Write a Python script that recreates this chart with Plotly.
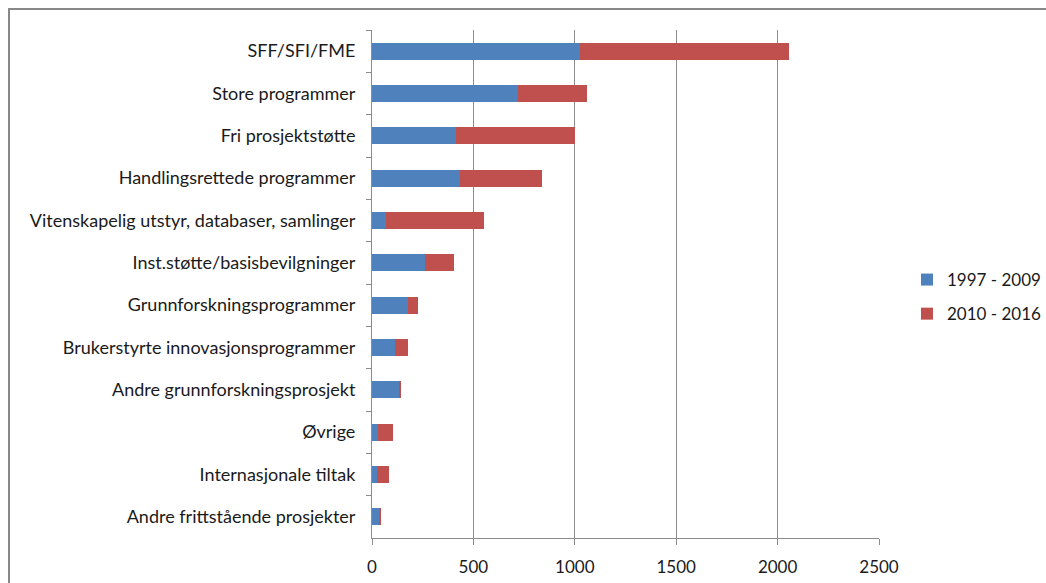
import plotly.graph_objects as go

categories = [
    "SFF/SFI/FME",
    "Store programmer",
    "Fri prosjektstøtte",
    "Handlingsrettede programmer",
    "Vitenskapelig utstyr, databaser, samlinger",
    "Inst.støtte/basisbevilgninger",
    "Grunnforskningsprogrammer",
    "Brukerstyrte innovasjonsprogrammer",
    "Andre grunnforskningsprosjekt",
    "Øvrige",
    "Internasjonale tiltak",
    "Andre frittstående prosjekter",
]
series_1997_2009 = [1028, 722, 415, 435, 67, 259, 179, 115, 134, 31, 25, 36]
series_2010_2016 = [1030, 336, 587, 405, 486, 146, 50, 64, 5, 74, 57, 5]
x_ticks = [0, 500, 1000, 1500, 2000, 2500]

FONT = "Lato"
W, H = 1046, 583
L, R, T, B = 372, 879, 30, 538

fig = go.Figure()
fig.add_trace(go.Bar(y=categories, x=series_1997_2009, orientation="h",
                     name="1997 - 2009", marker_color="#4F81BD",
                     marker_line_width=0, legendgroup="a"))
fig.add_trace(go.Bar(y=categories, x=series_2010_2016, orientation="h",
                     name="2010 - 2016", marker_color="#C0504D",
                     marker_line_width=0, legendgroup="b"))

pw = R - L
ph = B - T
fig.add_shape(type="rect", xref="paper", yref="paper",
              x0=(9 - L) / pw, x1=(W + 10 - L) / pw,
              y0=(B - (H + 10)) / ph, y1=(B - 9) / ph,
              line=dict(color="#888888", width=2), layer="below")

fig.update_layout(
    width=W, height=H,
    margin=dict(l=L, r=W - R, t=T, b=H - B, pad=0, autoexpand=False),
    barmode="stack", bargap=0.6,
    paper_bgcolor="white", plot_bgcolor="white",
    font=dict(family=FONT, size=16, color="#1a1a1a"),
    showlegend=True,
    legend=dict(x=(907 - L) / pw, y=(B - 297) / ph,
                xanchor="left", yanchor="middle",
                traceorder="grouped", tracegroupgap=9,
                font=dict(family=FONT, size=17, color="#1a1a1a"),
                itemwidth=30),
    xaxis=dict(range=[0, 2500], tickvals=x_ticks, showgrid=True,
               gridcolor="#8c8c8c", gridwidth=1, showline=True,
               linecolor="#8c8c8c", linewidth=1, ticks="outside",
               ticklen=6, tickcolor="#8c8c8c", zeroline=False,
               automargin=False, ticklabelstandoff=8,
               tickfont=dict(family=FONT, size=17)),
    yaxis=dict(autorange="reversed", showline=True, linecolor="#8c8c8c",
               linewidth=1, ticks="outside", tickson="boundaries",
               ticklen=5, tickcolor="#8c8c8c", showgrid=False,
               ticklabelstandoff=12, automargin=False,
               tickfont=dict(family=FONT, size=18)),
)

fig.write_html("out.html", config={"displayModeBar": False},
               post_script="document.body.style.margin='0';document.body.style.overflow='hidden';")
